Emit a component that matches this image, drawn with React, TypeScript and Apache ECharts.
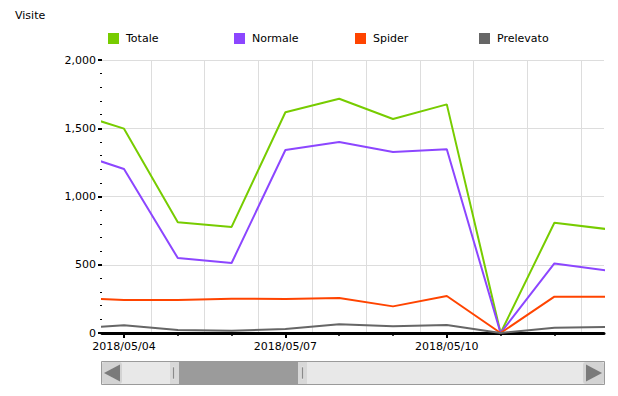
import React, { useEffect, useRef } from 'react';
import * as echarts from 'echarts';

const dates = [
  '2018/05/03', '2018/05/04', '2018/05/05', '2018/05/06', '2018/05/07', '2018/05/08',
  '2018/05/09', '2018/05/10', '2018/05/11', '2018/05/12', '2018/05/13',
];
const totale = [1622, 1497, 811, 777, 1617, 1716, 1568, 1675, 0, 808, 760];
const normale = [1333, 1201, 549, 513, 1341, 1399, 1326, 1346, 0, 510, 456];
const spider = [259, 242, 242, 251, 249, 256, 195, 271, 0, 266, 266];
const prelevato = [32, 56, 22, 17, 29, 64, 49, 59, 0, 39, 44];

const seriesNames = ['Totale', 'Normale', 'Spider', 'Prelevato'];
const seriesColors = ['#77cc00', '#8c46ff', '#ff4400', '#666666'];
const seriesValues = [totale, normale, spider, prelevato];
const legendLefts = [108, 234, 355, 479];

// visible window of the zoomed day axis (day indices)
const viewStart = 0.591;
const viewEnd = 9.922;
const dayTicks = [1, 2, 3, 4, 5, 6, 7, 8, 9];
const labelTicks = [1, 4, 7];
const gridTicks = [1.5, 2.5, 3.5, 4.5, 5.5, 6.5, 7.5, 8.5, 9.5];

const FONT = 'DejaVu Sans';

export default function App() {
  const ref = useRef<HTMLDivElement>(null);
  useEffect(() => {
    if (!ref.current) return;
    const chart = echarts.init(ref.current, null, { renderer: 'svg' });
    const baseX = {
      type: 'value' as const,
      position: 'bottom' as const,
      min: viewStart,
      max: viewEnd,
    };
    chart.setOption({
      animation: false,
      backgroundColor: '#ffffff',
      title: {
        text: 'Visite',
        left: 15,
        top: 10,
        padding: 0,
        textStyle: { fontFamily: FONT, fontSize: 11, fontWeight: 'normal', color: '#000' },
      },
      legend: seriesNames.map((name, k) => ({
        left: legendLefts[k],
        top: 33,
        padding: 0,
        icon: 'rect',
        itemWidth: 11,
        itemHeight: 11,
        itemGap: 0,
        data: [name],
        textStyle: {
          fontFamily: FONT,
          fontSize: 11,
          color: '#000',
          padding: [0, 0, 0, 2],
        },
      })),
      grid: { left: 102, right: 14, top: 60, bottom: 63, containLabel: false },
      xAxis: [
        {
          ...baseX,
          axisLine: { show: true, lineStyle: { color: '#000', width: 3 } },
          axisTick: { show: true, customValues: dayTicks, length: 3, lineStyle: { color: '#000', width: 1.5 } },
          axisLabel: {
            show: true,
            customValues: labelTicks,
            margin: 8,
            fontFamily: FONT,
            fontSize: 11,
            color: '#000',
            formatter: (v: number) => dates[Math.round(v)] ?? '',
          },
          splitLine: { show: false },
        },
        {
          ...baseX,
          axisLine: { show: false },
          axisTick: { show: true, customValues: labelTicks, length: 5, lineStyle: { color: '#000', width: 2 } },
          axisLabel: { show: false },
          splitLine: { show: false },
        },
        {
          ...baseX,
          axisLine: { show: false },
          axisTick: { show: false, customValues: gridTicks },
          axisLabel: { show: false },
          splitLine: { show: true, lineStyle: { color: '#dddddd', width: 1 } },
        },
      ],
      yAxis: {
        type: 'value',
        min: 0,
        max: 2000,
        interval: 500,
        axisLine: { show: false },
        axisTick: { show: true, length: 4, lineStyle: { color: '#000', width: 2 } },
        minorTick: { show: true, splitNumber: 5, length: 2, lineStyle: { color: '#000', width: 1 } },
        axisLabel: {
          margin: 6,
          fontFamily: FONT,
          fontSize: 11,
          color: '#000',
          formatter: (v: number) => v.toLocaleString('en-US'),
        },
        splitLine: { show: true, lineStyle: { color: '#dddddd', width: 1 } },
      },
      series: seriesNames.map((name, k) => ({
        name,
        type: 'line',
        xAxisIndex: 0,
        symbol: 'none',
        clip: true,
        color: seriesColors[k],
        lineStyle: { width: 2, color: seriesColors[k] },
        itemStyle: { color: seriesColors[k] },
        data: seriesValues[k].map((v, i) => [i, v]),
      })),
      graphic: [
        { type: 'rect', shape: { x: 101.5, y: 361.5, width: 503, height: 23 }, style: { fill: '#e8e8e8', stroke: '#9a9a9a', lineWidth: 1 } },
        { type: 'rect', shape: { x: 102, y: 362, width: 20, height: 22, r: 3 }, style: { fill: '#d3d3d3' } },
        { type: 'polygon', shape: { points: [[104, 373], [120, 364.5], [120, 381.5]] }, style: { fill: '#7a7a7a' } },
        { type: 'rect', shape: { x: 583, y: 362, width: 21, height: 22, r: 3 }, style: { fill: '#d3d3d3' } },
        { type: 'polygon', shape: { points: [[602, 373], [586, 364.5], [586, 381.5]] }, style: { fill: '#7a7a7a' } },
        { type: 'rect', shape: { x: 170, y: 362, width: 9, height: 22 }, style: { fill: '#d8d8d8' } },
        { type: 'rect', shape: { x: 172.5, y: 367, width: 2, height: 12 }, style: { fill: '#8a8a8a', stroke: '#f4f4f4', lineWidth: 0.5 } },
        { type: 'rect', shape: { x: 179, y: 362, width: 119, height: 22 }, style: { fill: '#9b9b9b' } },
        { type: 'rect', shape: { x: 298, y: 362, width: 9, height: 22 }, style: { fill: '#d8d8d8' } },
        { type: 'rect', shape: { x: 301.5, y: 367, width: 2, height: 12 }, style: { fill: '#8a8a8a', stroke: '#f4f4f4', lineWidth: 0.5 } },
      ],
    });
    return () => chart.dispose();
  }, []);
  return (
    <div
      ref={ref}
      style={{ position: 'absolute', left: 0, top: 0, width: 618, height: 396 }}
    />
  );
}
